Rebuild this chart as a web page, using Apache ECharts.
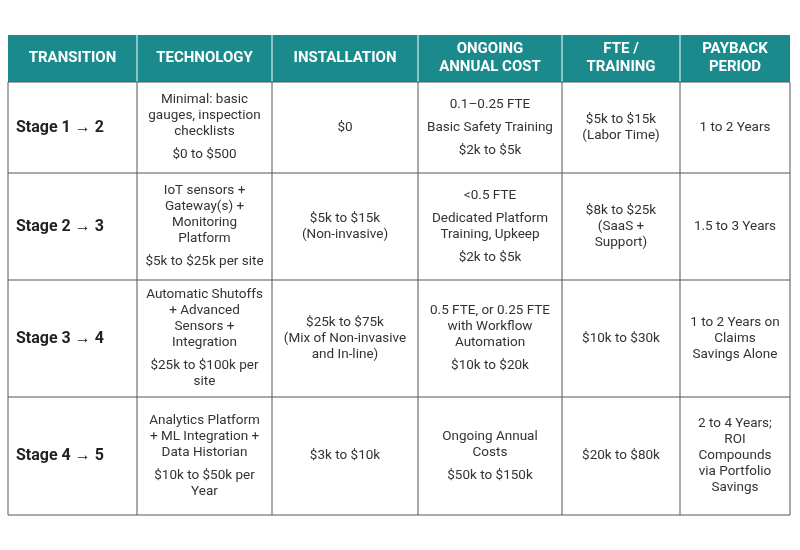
<!DOCTYPE html>
<html><head><meta charset="utf-8">
<script src="https://cdn.jsdelivr.net/npm/echarts@6/dist/echarts.min.js"></script>
<style>html,body{margin:0;background:#fff}#c{width:800px;height:550px}</style>
</head><body><div id="c"></div>
<script>
var headers = ['TRANSITION', 'TECHNOLOGY', 'INSTALLATION', 'ONGOING\nANNUAL COST', 'FTE /\nTRAINING', 'PAYBACK\nPERIOD'];
var stages = ['Stage 1 \u2192 2', 'Stage 2 \u2192 3', 'Stage 3 \u2192 4', 'Stage 4 \u2192 5'];
// paragraphs per cell
var technology = [
  ['Minimal: basic\ngauges, inspection\nchecklists', '$0 to $500'],
  ['IoT sensors +\nGateway(s) +\nMonitoring\nPlatform', '$5k to $25k per site'],
  ['Automatic Shutoffs\n+ Advanced\nSensors +\nIntegration', '$25k to $100k per\nsite'],
  ['Analytics Platform\n+ ML Integration +\nData Historian', '$10k to $50k per\nYear']
];
var installation = [['$0'], ['$5k to $15k\n(Non-invasive)'], ['$25k to $75k\n(Mix of Non-invasive\nand In-line)'], ['$3k to $10k']];
var ongoing = [
  ['0.1\u20130.25 FTE', 'Basic Safety Training', '$2k to $5k'],
  ['<0.5 FTE', 'Dedicated Platform\nTraining, Upkeep', '$2k to $5k'],
  ['0.5 FTE, or 0.25 FTE\nwith Workflow\nAutomation', '$10k to $20k'],
  ['Ongoing Annual\nCosts', '$50k to $150k']
];
var fte = [['$5k to $15k\n(Labor Time)'], ['$8k to $25k\n(SaaS +\nSupport)'], ['$10k to $30k'], ['$20k to $80k']];
var payback = [['1 to 2 Years'], ['1.5 to 3 Years'], ['1 to 2 Years on\nClaims\nSavings Alone'], ['2 to 4 Years;\nROI\nCompounds\nvia Portfolio\nSavings']];

var colX = [8, 137, 272, 418, 562, 680, 790];
var rowY = [35, 82, 173, 280, 397, 515];
var teal = '#1a8a8c';

var chart = echarts.init(document.getElementById('c'));
var els = [];
els.push({type: 'rect', shape: {x: colX[0], y: rowY[0], width: colX[6] - colX[0], height: rowY[1] - rowY[0]}, style: {fill: teal}});
for (var i = 1; i < 6; i++) {
  els.push({type: 'line', shape: {x1: colX[i], y1: rowY[0], x2: colX[i], y2: rowY[1]}, style: {stroke: '#ffffff', lineWidth: 1}});
}
headers.forEach(function (h, i) {
  els.push({type: 'text', x: (colX[i] + colX[i + 1]) / 2, y: (rowY[0] + rowY[1]) / 2,
    style: {text: h, fill: '#fff', font: 'bold 15px Roboto', align: 'center', verticalAlign: 'middle', lineHeight: 18}});
});
// grid lines
for (var r = 1; r < rowY.length; r++) {
  els.push({type: 'line', shape: {x1: colX[0], y1: rowY[r], x2: colX[6], y2: rowY[r]}, style: {stroke: '#555', lineWidth: 1}});
}
for (var c = 0; c < colX.length; c++) {
  els.push({type: 'line', shape: {x1: colX[c], y1: rowY[1], x2: colX[c], y2: rowY[5]}, style: {stroke: '#555', lineWidth: 1}});
}
function cellText(paras) {
  return paras.join('\n{g| }\n');
}
var cols = [technology, installation, ongoing, fte, payback];
for (var r = 0; r < 4; r++) {
  var cy = (rowY[r + 1] + rowY[r + 2]) / 2;
  els.push({type: 'text', x: colX[0] + 8, y: cy,
    style: {text: stages[r], fill: '#222', font: 'bold 16px Roboto', align: 'left', verticalAlign: 'middle'}});
  cols.forEach(function (col, k) {
    els.push({type: 'text', x: (colX[k + 1] + colX[k + 2]) / 2, y: cy,
      style: {text: cellText(col[r]), fill: '#333', font: '13.5px Roboto', align: 'center', verticalAlign: 'middle',
        lineHeight: 16, rich: {g: {lineHeight: 7, fontSize: 4}}}});
  });
}
chart.setOption({graphic: {elements: els}});
</script>
</body></html>
